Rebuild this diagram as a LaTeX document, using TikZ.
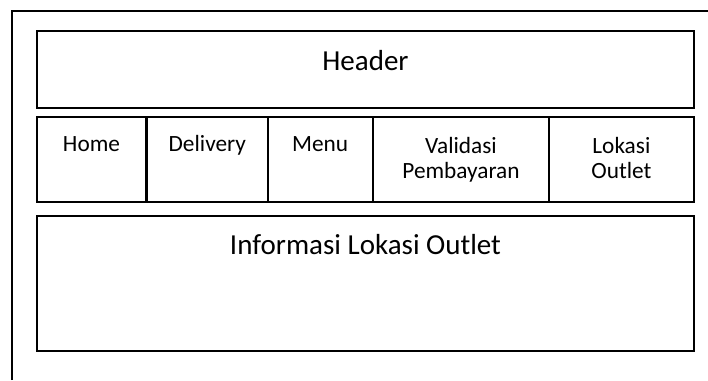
\documentclass[tikz,border=0pt]{standalone}
\usepackage{fontspec}
\setmainfont{Carlito}
\begin{document}
\begin{tikzpicture}[x=1pt,y=-1pt,
  box/.style={draw=black,line width=2pt,inner sep=0pt},
  big/.style={font=\fontsize{29}{34}\selectfont,anchor=base,inner sep=0pt},
  nav/.style={font=\fontsize{23.3}{25}\selectfont,anchor=base,inner sep=0pt,align=center}]
\useasboundingbox[fill=white] (0,0) rectangle (708,380);
% outer frame (only left and top visible)
\coordinate (fbl) at (12,380);
\coordinate (ftl) at (12,11);
\coordinate (ftr) at (708,11);
\draw[line width=2pt] (fbl) -- (ftl) -- (ftr);
% header
\node[box,minimum width=657pt,minimum height=77pt] (header) at (365.5,69.5) {};
\node[big] (headertxt) at (365.5,70) {Header};
% navigation row
\node[box,minimum width=657pt,minimum height=84.5pt] (navrow) at (365.5,159.5) {};
\coordinate (d1t) at (146.7,117.3); \coordinate (d1b) at (146.7,201.7);
\coordinate (d2t) at (268,117.3);   \coordinate (d2b) at (268,201.7);
\coordinate (d3t) at (372.5,117.3); \coordinate (d3b) at (372.5,201.7);
\coordinate (d4t) at (549.3,117.3); \coordinate (d4b) at (549.3,201.7);
\draw[line width=2.6pt] (d1t) -- (d1b);
\draw[line width=2pt] (d2t) -- (d2b);
\draw[line width=2pt] (d3t) -- (d3b);
\draw[line width=2pt] (d4t) -- (d4b);
\node[nav] (home) at (91.5,151.7) {Home};
\node[nav] (delivery) at (207.3,151.7) {Delivery};
\node[nav] (menu) at (320.2,151.7) {Menu};
\node[nav] (valid1) at (461,153.3) {Validasi};
\node[nav] (valid2) at (461,178.3) {Pembayaran};
\node[nav] (lok1) at (621.4,153.3) {Lokasi};
\node[nav] (lok2) at (621.4,178.3) {Outlet};
% information area
\node[box,minimum width=657pt,minimum height=134.5pt] (info) at (365.5,283.3) {};
\node[big] (infotxt) at (365.5,254.3) {Informasi Lokasi Outlet};
\end{tikzpicture}
\end{document}
